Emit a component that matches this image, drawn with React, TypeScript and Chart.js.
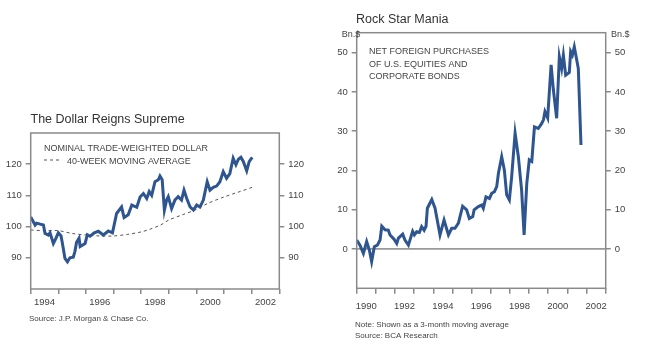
import React, { useEffect, useRef } from 'react';
import { Chart, registerables } from 'chart.js';
Chart.register(...registerables);

// ---- Left chart: The Dollar Reigns Supreme ----
const dollarYears = [
  1994.0, 1994.1, 1994.16, 1994.22, 1994.34, 1994.46, 1994.52, 1994.64, 1994.7, 1994.82, 1994.9,
  1995.0, 1995.1, 1995.18, 1995.24, 1995.33, 1995.42, 1995.54, 1995.6, 1995.66, 1995.75, 1995.79,
  1995.97, 1996.05, 1996.15, 1996.3, 1996.45, 1996.63, 1996.81, 1996.96, 1997.11, 1997.29, 1997.38,
  1997.53, 1997.66, 1997.84, 1997.96, 1998.08, 1998.2, 1998.29, 1998.38, 1998.5, 1998.62, 1998.68,
  1998.76, 1998.84, 1998.92, 1998.98, 1999.1, 1999.22, 1999.34, 1999.46, 1999.55, 1999.65, 1999.77,
  1999.89, 2000.01, 2000.13, 2000.25, 2000.39, 2000.49, 2000.61, 2000.73, 2000.85, 2000.97, 2001.09,
  2001.21, 2001.33, 2001.43, 2001.52, 2001.61, 2001.7, 2001.82, 2001.91, 2002.02,
];
const dollarValues = [
  103.1, 101.5, 100.5, 101.1, 100.8, 100.5, 97.8, 97.3, 98.0, 94.6, 96.0,
  98.0, 97.0, 93.0, 89.8, 88.7, 90.0, 90.2, 92.0, 95.0, 96.3, 93.6,
  94.6, 97.4, 96.9, 98.0, 98.5, 97.3, 98.6, 98.0, 104.2, 106.3, 102.9,
  103.8, 106.9, 106.2, 109.5, 110.6, 109.0, 111.2, 110.0, 114.4, 115.0, 116.2,
  115.0, 105.3, 108.5, 109.6, 105.8, 108.5, 109.6, 108.5, 111.7, 109.0, 106.3,
  105.3, 106.9, 106.3, 108.5, 114.4, 111.7, 112.6, 113.0, 114.4, 117.6, 115.5,
  117.0, 121.9, 119.8, 121.6, 122.2, 120.8, 117.9, 120.8, 122.2,
];
const maYears = [1994.0, 1994.5, 1995.0, 1995.5, 1996.0, 1996.5, 1997.0, 1997.5, 1998.0, 1998.3, 1998.7, 1999.0, 1999.5, 2000.0, 2000.4, 2001.0, 2001.5, 2002.02];
const maValues = [98.9, 98.7, 98.7, 97.8, 97.3, 97.0, 97.0, 97.5, 98.3, 99.1, 100.5, 102.1, 103.8, 105.5, 107.4, 109.5, 111.0, 112.6];
const dollarYTicks = [90, 100, 110, 120];
const dollarXTicks = [1994, 1995, 1996, 1997, 1998, 1999, 2000, 2001, 2002, 2003];

// ---- Right chart: Rock Star Mania ----
const flowYears = [
  1990.0, 1990.17, 1990.35, 1990.52, 1990.66, 1990.78, 1990.92, 1991.08, 1991.22, 1991.31, 1991.48,
  1991.65, 1991.74, 1991.95, 1992.09, 1992.18, 1992.4, 1992.52, 1992.7, 1992.92, 1993.01, 1993.13,
  1993.27, 1993.39, 1993.52, 1993.62, 1993.69, 1993.92, 1994.09, 1994.35, 1994.56, 1994.79, 1994.96,
  1995.13, 1995.31, 1995.53, 1995.74, 1995.88, 1996.06, 1996.13, 1996.35, 1996.53, 1996.61, 1996.75,
  1996.93, 1997.05, 1997.19, 1997.31, 1997.4, 1997.57, 1997.71, 1997.83, 1997.97, 1998.09, 1998.27,
  1998.44, 1998.61, 1998.74, 1998.88, 1999.01, 1999.14, 1999.28, 1999.48, 1999.66, 1999.75, 1999.83,
  1999.97, 2000.15, 2000.27, 2000.44, 2000.58, 2000.7, 2000.79, 2000.91, 2001.1, 2001.17, 2001.26,
  2001.36, 2001.57, 2001.71,
];
const flowValues = [
  2.3, 1.0, -1.1, 1.9, -0.25, -3.2, 0.6, 1.0, 2.3, 5.8, 4.9,
  4.8, 3.6, 2.5, 1.4, 2.8, 3.8, 2.3, 1.0, 4.5, 3.6, 4.4,
  4.2, 5.7, 4.8, 5.8, 10.4, 12.6, 10.4, 3.6, 7.4, 3.6, 5.3,
  5.3, 6.6, 10.9, 10.0, 7.8, 8.3, 10.0, 10.8, 11.2, 10.4, 13.3,
  12.9, 14.2, 14.6, 15.9, 19.3, 23.5, 20.1, 13.8, 12.5, 18.4, 29.5,
  23.5, 15.0, 3.6, 16.7, 22.7, 22.3, 31.1, 30.7, 32.0, 32.9, 35.0,
  33.4, 46.9, 40.5, 33.3, 49.0, 46.0, 49.4, 44.3, 45.0, 50.3, 49.4,
  51.5, 46.0, 26.5,
];
const flowYTicks = [0, 10, 20, 30, 40, 50];
const flowXTicks = [1990, 1991, 1992, 1993, 1994, 1995, 1996, 1997, 1998, 1999, 2000, 2001, 2002, 2003];

const FONT = '"Liberation Sans", Arial, Helvetica, sans-serif';
const LINE = '#2e5590';
const AXIS = '#8a8a8a';
const TXT = '#444';

type TextItem = { text: string; x: number; y: number; size: number; color?: string };

function decorPlugin(texts: TextItem[], extra?: (ctx: CanvasRenderingContext2D) => void) {
  return {
    id: 'decor',
    afterDatasetsDraw(chart: any) {
      const ctx: CanvasRenderingContext2D = chart.ctx;
      const a = chart.chartArea;
      ctx.save();
      ctx.strokeStyle = AXIS;
      ctx.lineWidth = 1.5;
      ctx.strokeRect(a.left, a.top, a.right - a.left, a.bottom - a.top);
      ctx.restore();
    },
    afterDraw(chart: any) {
      const ctx: CanvasRenderingContext2D = chart.ctx;
      ctx.save();
      ctx.textAlign = 'left';
      ctx.textBaseline = 'alphabetic';
      for (const t of texts) {
        ctx.font = `${t.size}px ${FONT}`;
        ctx.fillStyle = t.color || TXT;
        ctx.fillText(t.text, t.x, t.y);
      }
      if (extra) extra(ctx);
      ctx.restore();
    },
  };
}

function yAxis(position: 'left' | 'right', min: number, max: number, ticks: number[], width: number, zeroLine: boolean) {
  return {
    type: 'linear',
    position,
    min,
    max,
    display: true,
    afterBuildTicks: (s: any) => { s.ticks = ticks.map((v) => ({ value: v })); },
    afterFit: (s: any) => { s.width = width; },
    border: { display: false },
    grid: {
      drawOnChartArea: zeroLine,
      drawTicks: true,
      tickLength: 5,
      tickColor: AXIS,
      lineWidth: 1.5,
      color: (c: any) => (c.tick && c.tick.value === 0 ? '#999' : 'rgba(0,0,0,0)'),
    },
    ticks: { color: TXT, font: { family: FONT, size: 9.5 }, padding: 4 },
  };
}

function xAxis(min: number, max: number, ticks: number[], height: number, halfStep: number, padding: number, tickLength: number) {
  return {
    type: 'linear',
    position: 'bottom',
    min,
    max,
    afterBuildTicks: (s: any) => { s.ticks = ticks.map((v) => ({ value: v })); },
    afterFit: (s: any) => { s.height = height; },
    border: { display: false },
    grid: { drawOnChartArea: false, drawTicks: true, tickLength, tickColor: AXIS, lineWidth: 1.5 },
    ticks: {
      autoSkip: false,
      maxRotation: 0,
      color: TXT,
      font: { family: FONT, size: 9.5 },
      padding,
      labelOffset: halfStep,
      callback: (v: any) => {
        const n = Math.round(Number(v));
        return n % 2 === 0 && n < max ? String(n) : '';
      },
    },
  };
}

export default function App() {
  const leftRef = useRef<HTMLCanvasElement>(null);
  const rightRef = useRef<HTMLCanvasElement>(null);

  useEffect(() => {
    const left = new Chart(leftRef.current as HTMLCanvasElement, {
      type: 'line',
      data: {
        datasets: [
          {
            data: dollarYears.map((x, i) => ({ x, y: dollarValues[i] })),
            borderColor: LINE,
            borderWidth: 3,
            pointRadius: 0,
            tension: 0,
            yAxisID: 'y',
          },
          {
            data: maYears.map((x, i) => ({ x, y: maValues[i] })),
            borderColor: '#555',
            borderWidth: 1,
            borderDash: [3, 3],
            pointRadius: 0,
            tension: 0.3,
            yAxisID: 'y',
          },
        ],
      },
      options: {
        responsive: false,
        animation: false,
        layout: { padding: { top: 133, left: 0, right: 0, bottom: 0 } },
        plugins: { legend: { display: false }, tooltip: { enabled: false }, title: { display: false } },
        scales: {
          x: xAxis(1994, 2003, dollarXTicks, 61, 13.8, 3, 5) as any,
          y: yAxis('left', 80, 130, dollarYTicks, 30.7, false) as any,
          y2: yAxis('right', 80, 130, dollarYTicks, 45.7, false) as any,
        },
      },
      plugins: [
        decorPlugin(
          [
            { text: 'The Dollar Reigns Supreme', x: 30.5, y: 122.5, size: 12.5, color: '#333' },
            { text: 'NOMINAL TRADE-WEIGHTED DOLLAR', x: 44, y: 151, size: 9 },
            { text: '40-WEEK MOVING AVERAGE', x: 67, y: 163.5, size: 9 },
            { text: 'Source: J.P. Morgan & Chase Co.', x: 29, y: 320.5, size: 8 },
          ],
          (ctx) => {
            ctx.strokeStyle = '#555';
            ctx.lineWidth = 1;
            ctx.setLineDash([3, 3]);
            ctx.beginPath();
            ctx.moveTo(44, 160);
            ctx.lineTo(61, 160);
            ctx.stroke();
            ctx.setLineDash([]);
          }
        ) as any,
      ],
    });

    const right = new Chart(rightRef.current as HTMLCanvasElement, {
      type: 'line',
      data: {
        datasets: [
          {
            data: flowYears.map((x, i) => ({ x, y: flowValues[i] })),
            borderColor: LINE,
            borderWidth: 3,
            pointRadius: 0,
            tension: 0,
            yAxisID: 'y',
          },
        ],
      },
      options: {
        responsive: false,
        animation: false,
        layout: { padding: { top: 32.7, left: 0, right: 0, bottom: 0 } },
        plugins: { legend: { display: false }, tooltip: { enabled: false }, title: { display: false } },
        scales: {
          x: xAxis(1990, 2003, flowXTicks, 61.7, 9.58, 7, 5.5) as any,
          y: yAxis('left', -10, 55.1, flowYTicks, 31.7, true) as any,
          y2: yAxis('right', -10, 55.1, flowYTicks, 44.3, true) as any,
        },
      },
      plugins: [
        decorPlugin([
          { text: 'Rock Star Mania', x: 31, y: 23.3, size: 12.5, color: '#333' },
          { text: 'Bn.$', x: 16.7, y: 36.5, size: 9 },
          { text: 'Bn.$', x: 286, y: 36.5, size: 9 },
          { text: 'NET FOREIGN PURCHASES', x: 44, y: 54, size: 9 },
          { text: 'OF U.S. EQUITIES AND', x: 44, y: 66.7, size: 9 },
          { text: 'CORPORATE BONDS', x: 44, y: 79.3, size: 9 },
          { text: 'Note: Shown as a 3-month moving average', x: 30, y: 327, size: 8 },
          { text: 'Source: BCA Research', x: 30, y: 338, size: 8 },
        ]) as any,
      ],
    });

    return () => {
      left.destroy();
      right.destroy();
    };
  }, []);

  return (
    <div style={{ position: 'absolute', left: 0, top: 0, width: 650, height: 350, background: '#fff' }}>
      <canvas ref={leftRef} width={325} height={350} style={{ position: 'absolute', left: 0, top: 0, width: 325, height: 350 }} />
      <canvas ref={rightRef} width={325} height={350} style={{ position: 'absolute', left: 325, top: 0, width: 325, height: 350 }} />
    </div>
  );
}
